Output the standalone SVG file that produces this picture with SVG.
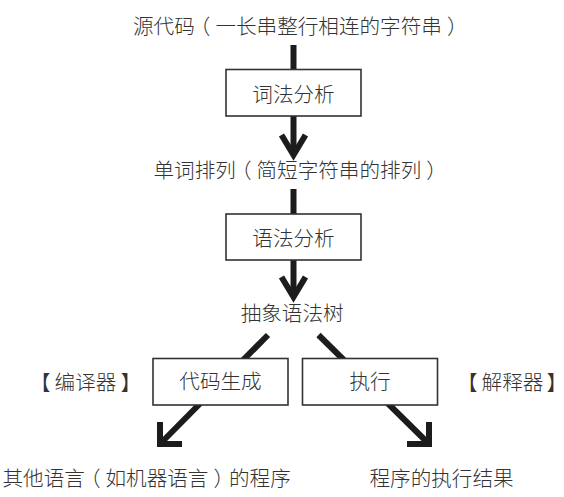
<svg xmlns="http://www.w3.org/2000/svg" width="564" height="497" viewBox="0 0 564 497">
<style>
text{font-family:"Noto Sans CJK SC","Noto Sans CJK JP",sans-serif;font-size:20.6px;font-weight:300;fill:#333}
.c{text-anchor:middle}
.n{letter-spacing:-5px}
.w{letter-spacing:5px}
.n4{letter-spacing:-4px}
.w4{letter-spacing:4px}
.box{fill:#fff;stroke:#333;stroke-width:1.6}
.conn{fill:none;stroke:#1c1c1c;stroke-width:6;stroke-linecap:butt;stroke-linejoin:miter;stroke-miterlimit:10}
</style>
<rect width="564" height="497" fill="#fff"/>
<g id="connectors">
<path class="conn" d="M293.5 45V155"/>
<path class="conn" d="M281.5 135L293.5 155L305.5 135"/>
<path class="conn" d="M293.5 189V297"/>
<path class="conn" d="M281.5 277L293.5 297L305.5 277"/>
<path class="conn" d="M268 335L160 444"/>
<path class="conn" d="M160 422V444H182"/>
<path class="conn" d="M318.5 335L429 444"/>
<path class="conn" d="M429 422V444H407"/>
</g>
<g id="source"><text x="133" y="34">源代<tspan class="n">码</tspan><tspan class="w">（</tspan>一长串整行相连的字符<tspan class="w">串</tspan><tspan class="n">）</tspan></text></g>
<g id="lexer"><rect class="box" x="226" y="69.5" width="135" height="46.5"/><text class="c" x="293.5" y="101.5">词法分析</text></g>
<g id="tokens"><text x="153.5" y="177.5">单词排<tspan class="n">列</tspan><tspan class="w">（</tspan>简短字符串的排<tspan class="w">列</tspan><tspan class="n">）</tspan></text></g>
<g id="parser"><rect class="box" x="226" y="214" width="135" height="46"/><text class="c" x="293.5" y="245.5">语法分析</text></g>
<g id="ast"><text x="240.7" y="320.5">抽象语法树</text></g>
<g id="codegen"><rect class="box" x="153" y="358.5" width="135" height="46.5"/><text class="c" x="220.5" y="389">代码生成</text></g>
<g id="exec"><rect class="box" x="302.5" y="358.5" width="135" height="46.5"/><text class="c" x="370" y="389">执行</text></g>
<g id="compiler"><text x="30" y="390"><tspan class="w4">【</tspan>编译<tspan class="w4">器</tspan><tspan class="n4">】</tspan></text></g>
<g id="interpreter"><text x="457" y="390"><tspan class="w4">【</tspan>解释<tspan style="letter-spacing:3px">器</tspan><tspan class="n">】</tspan></text></g>
<g id="other"><text x="2.5" y="486">其他语<tspan class="n">言</tspan><tspan class="w">（</tspan>如机器语<tspan class="w">言</tspan><tspan class="n">）</tspan>的程序</text></g>
<g id="result"><text x="369.5" y="486">程序的执行结果</text></g>
</svg>
